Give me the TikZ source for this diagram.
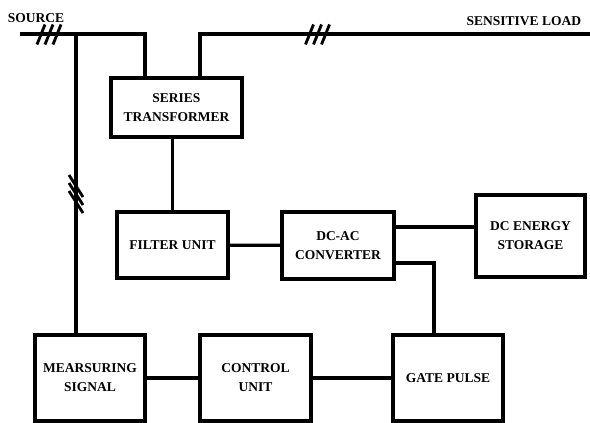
\documentclass[tikz,border=0pt]{standalone}
\usepackage{fontspec}
\setmainfont{Liberation Serif}
\usetikzlibrary{positioning}

\begin{document}
\begin{tikzpicture}[x=1pt, y=-1pt,
    font=\bfseries\fontsize{13.5}{19}\selectfont,
    line width=3.2pt,
    blk/.style={draw, align=center, inner sep=0pt},
    hash/.style={line width=2.8pt}]
  \useasboundingbox (0,0) rectangle (590,423);
  % blocks
  \node[blk, minimum width=131pt, minimum height=59pt] (series) at (176.5,107.5) {SERIES\\TRANSFORMER};
  \node[blk, minimum width=111pt, minimum height=66pt] (filter) at (172.5,245) {FILTER UNIT};
  \node[blk, minimum width=112pt, minimum height=67pt] (dcac) at (338,245.5) {DC-AC\\CONVERTER};
  \node[blk, minimum width=109pt, minimum height=82pt] (dces) at (530.5,236) {DC ENERGY\\STORAGE};
  \node[blk, minimum width=110pt, minimum height=86pt] (meas) at (90,378) {MEARSURING\\SIGNAL};
  \node[blk, minimum width=111pt, minimum height=86pt] (ctrl) at (255.5,378) {CONTROL\\UNIT};
  \node[blk, minimum width=110pt, minimum height=86pt] (gate) at (448,378) {GATE PULSE};
  % labels
  \node[anchor=base] (srclbl) at (36,22) {SOURCE};
  \node[anchor=base east] (loadlbl) at (586,25) {SENSITIVE LOAD};
  % supply line
  \coordinate (src) at (20,34);
  \coordinate (load) at (590,34);
  \coordinate (tap) at (76,34);
  \draw (src) -| ([xshift=-31.5pt]series.north);
  \draw ([xshift=23.5pt]series.north) |- (load);
  \draw (tap) -- (tap |- meas.north);
  \draw (series.south -| filter.north) -- (filter.north);
  \draw (filter) -- (dcac);
  \coordinate (dcup) at ([yshift=18.5pt]dcac.east);
  \draw (dcup) -- (dcup -| dces.west);
  \draw ([yshift=-17.5pt]dcac.east) -| ([xshift=-14pt]gate.north);
  \draw (meas) -- (ctrl) -- (gate);
  % three-phase marks
  \coordinate (h1) at (49,34.5);
  \coordinate (h2) at (317.5,34.5);
  \coordinate (h3) at (76,194);
  \foreach \d in {-8,0,8} {
    \draw[hash] ([xshift=\d pt]h1) ++(-4,10) -- ++(8,-20);
    \draw[hash] ([xshift=\d pt]h2) ++(-4,10) -- ++(8,-20);
    \draw[hash] ([yshift=\d pt]h3) ++(-7,-11) -- ++(14,22);
  }
\end{tikzpicture}
\end{document}
